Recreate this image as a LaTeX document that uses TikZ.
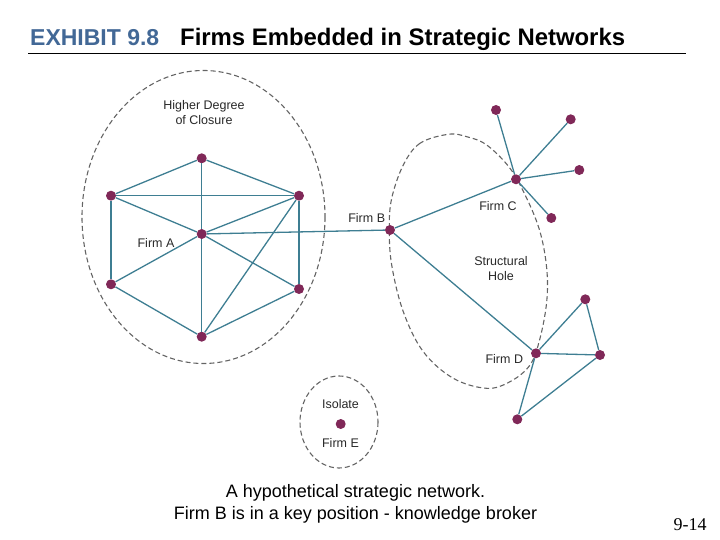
\documentclass[tikz,border=0pt]{standalone}
\usepackage{fontspec}
\setmainfont{Liberation Sans}
\newfontfamily\pagenumfont{Liberation Serif}
\definecolor{dotc}{RGB}{128,40,88}
\definecolor{linkc}{RGB}{62,126,146}
\definecolor{holec}{RGB}{100,100,100}
\definecolor{labc}{RGB}{40,40,40}
\definecolor{exhc}{RGB}{66,104,150}
\begin{document}
\begin{tikzpicture}[x=1pt,y=-1pt,
  dot/.style={circle,fill=dotc,inner sep=0pt,minimum size=10pt},
  link/.style={draw=linkc,line width=1.3pt},
  hole/.style={draw=holec,line width=1.1pt,dash pattern=on 5pt off 3pt},
  lab/.style={font=\fontsize{12.5}{15}\selectfont,text=labc,align=center,inner sep=0pt}]
\useasboundingbox (0,0) rectangle (720,540);
% title
\node[anchor=base west,inner sep=0pt,font=\fontsize{23}{26}\selectfont\bfseries,text=exhc] (ex) at (30,46) {EXHIBIT 9.8};
\node[anchor=base west,inner sep=0pt,font=\fontsize{23.9}{26}\selectfont\bfseries] (tt) at (180,46) {Firms Embedded in Strategic Networks};
\coordinate (ul1) at (28,53);
\coordinate (ul2) at (686,53);
\draw[line width=0.9pt] (ul1) -- (ul2);
% regions
\draw[hole] (203.5,217) ellipse [x radius=121.5, y radius=146.5];
\draw[hole] plot[smooth cycle,tension=0.6] coordinates {
  (448.3,134.3) (420,143.3) (403.3,165) (391.7,198.3) (389.3,228.3) (391.7,265)
  (403.3,311.7) (423.3,351.7) (453.3,378.3) (486.7,388.3) (510,381.7) (530,365)
  (540,338.3) (546.7,301.7) (546.7,268.3) (540,231.7) (526.7,198.3) (510,168.3)
  (486.7,145) (466.7,136.7)};
\draw[hole] (339,422) ellipse [x radius=39, y radius=46];
% nodes cluster A
\node[dot] (a1) at (201.7,158.3) {};
\node[dot] (a2) at (111,195.7) {};
\node[dot] (a3) at (299,195.7) {};
\node[dot] (fa) at (201.7,234) {};
\node[dot] (a4) at (111,284.3) {};
\node[dot] (a5) at (299,289) {};
\node[dot] (a6) at (201.7,336.7) {};
% others
\node[dot] (fb) at (390,230) {};
\node[dot] (fc) at (516,179.3) {};
\node[dot] (c1) at (496,110) {};
\node[dot] (c2) at (570.7,119.3) {};
\node[dot] (c3) at (579.3,170) {};
\node[dot] (c4) at (551.3,218) {};
\node[dot] (fd) at (536,353.3) {};
\node[dot] (d1) at (585.3,299.3) {};
\node[dot] (d2) at (600,355) {};
\node[dot] (d3) at (517.3,419.3) {};
\node[dot] (fe) at (340.7,424) {};
% edges
\foreach \u/\v in {a1/a2,a1/a3,a1/fa,a2/a3,a2/fa,a2/a4,a3/fa,a3/a5,a3/a6,fa/a4,fa/a5,fa/a6,a4/a6,a5/a6,fa/fb,fb/fc,fb/fd,fc/c1,fc/c2,fc/c3,fc/c4,fd/d1,fd/d2,d1/d2,fd/d3,d3/d2}
  \draw[link] (\u) -- (\v);
% labels
\node[lab] (lclos) at (204,113) {Higher Degree\\of Closure};
\node[lab] (la) at (156,243) {Firm A};
\node[lab] (lb) at (366.7,217.5) {Firm B};
\node[lab] (lc) at (498,206) {Firm C};
\node[lab] (lh) at (501,269) {Structural\\Hole};
\node[lab] (ld) at (504.3,359) {Firm D};
\node[lab] (li) at (340.5,404) {Isolate};
\node[lab] (le) at (340.5,443) {Firm E};
% caption
\node[align=center,inner sep=0pt,font=\fontsize{18}{22}\selectfont] (cap) at (355.5,504) {A hypothetical strategic network.\\Firm B is in a key position - knowledge broker};
\node[inner sep=0pt,font=\pagenumfont\fontsize{18}{20}\selectfont] (pg) at (690,525) {9-14};
\end{tikzpicture}
\end{document}
